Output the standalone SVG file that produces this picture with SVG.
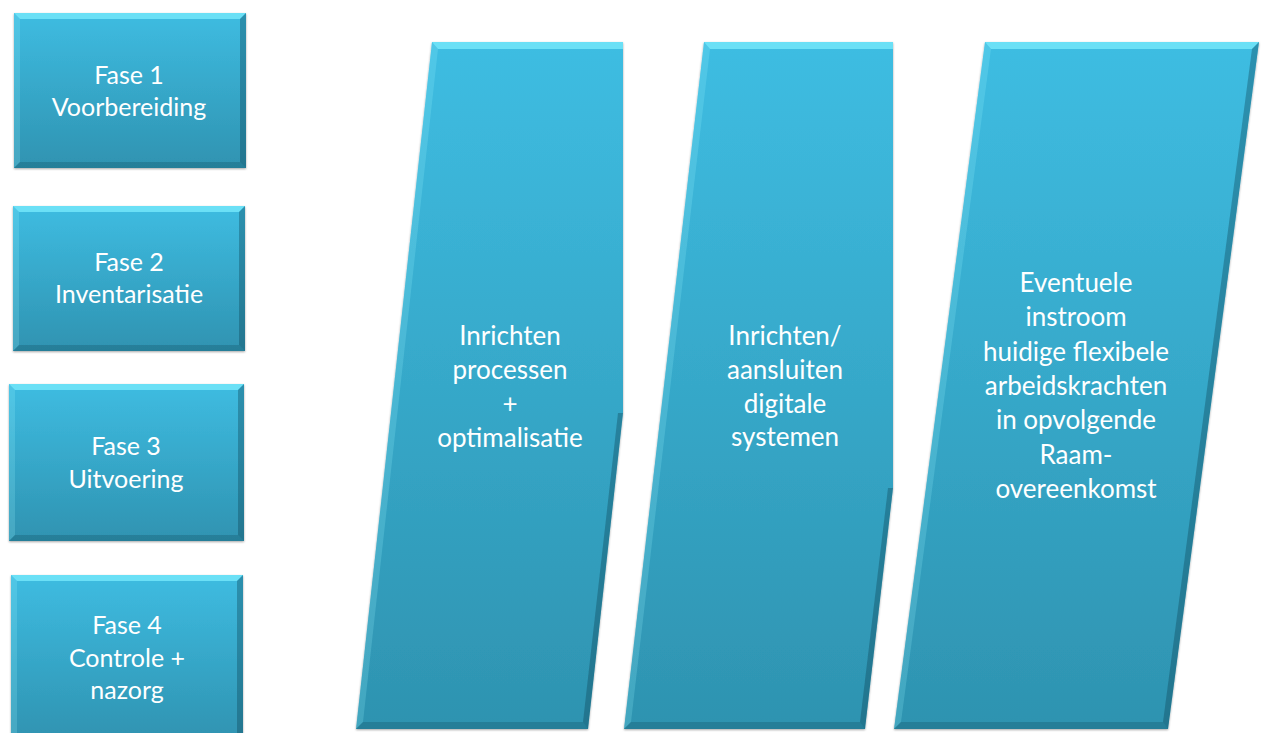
<svg xmlns="http://www.w3.org/2000/svg" width="1264" height="733" viewBox="0 0 1264 733">
<defs>
<linearGradient id="gBox" x1="0" y1="0" x2="0" y2="1">
<stop offset="0" stop-color="#3EBCE1"/>
<stop offset="1" stop-color="#2F93B1"/>
</linearGradient>
<linearGradient id="gPar" x1="0" y1="0" x2="0" y2="1">
<stop offset="0" stop-color="#3EBDE2"/>
<stop offset="1" stop-color="#2E93B0"/>
</linearGradient>
<filter id="sh" x="-5%" y="-5%" width="110%" height="110%">
<feDropShadow dx="0" dy="1" stdDeviation="1" flood-color="#000" flood-opacity="0.35"/>
</filter>
</defs>
<style>
text{font-family:Lato,"Open Sans","Liberation Sans",sans-serif;fill:#ffffff;text-anchor:middle}
.bt{font-size:25px}
.pt{font-size:26px}
.hl{fill:#7FF0FF;opacity:0.7}
.lt{fill:#9AF4FF;opacity:0.2}
.dk{fill:#0B3E50;opacity:0.35}
.dk2{fill:#0B3E50;opacity:0.25}
</style>
<rect width="1264" height="733" fill="#ffffff"/>

<g id="fase1">
<rect x="14" y="13" width="232" height="155" fill="url(#gBox)" filter="url(#sh)"/>
<polygon class="hl" points="14,13 246,13 240,19 20,19"/>
<polygon class="lt" points="14,13 20,19 20,162 14,168"/>
<polygon class="dk" points="246,13 246,168 240,162 240,19"/>
<polygon class="dk2" points="14,168 246,168 240,162 20,162"/>
<text class="bt" x="129" y="84">Fase 1</text>
<text class="bt" x="129" y="116">Voorbereiding</text>
</g>

<g id="fase2">
<rect x="13" y="206" width="232" height="145" fill="url(#gBox)" filter="url(#sh)"/>
<polygon class="hl" points="13,206 245,206 239,212 19,212"/>
<polygon class="lt" points="13,206 19,212 19,345 13,351"/>
<polygon class="dk" points="245,206 245,351 239,345 239,212"/>
<polygon class="dk2" points="13,351 245,351 239,345 19,345"/>
<text class="bt" x="129" y="271">Fase 2</text>
<text class="bt" x="129" y="303">Inventarisatie</text>
</g>

<g id="fase3">
<rect x="9" y="384" width="235" height="157" fill="url(#gBox)" filter="url(#sh)"/>
<polygon class="hl" points="9,384 244,384 238,390 15,390"/>
<polygon class="lt" points="9,384 15,390 15,535 9,541"/>
<polygon class="dk" points="244,384 244,541 238,535 238,390"/>
<polygon class="dk2" points="9,541 244,541 238,535 15,535"/>
<text class="bt" x="126" y="455">Fase 3</text>
<text class="bt" x="126" y="488">Uitvoering</text>
</g>

<g id="fase4">
<rect x="11" y="575" width="232" height="165" fill="url(#gBox)" filter="url(#sh)"/>
<polygon class="hl" points="11,575 243,575 237,581 17,581"/>
<polygon class="lt" points="11,575 17,581 17,740 11,740"/>
<polygon class="dk" points="243,575 243,740 237,740 237,581"/>
<text class="bt" x="127" y="634">Fase 4</text>
<text class="bt" x="127" y="667">Controle +</text>
<text class="bt" x="127" y="699">nazorg</text>
</g>

<g id="stap1">
<polygon points="432,42 623,42 623,413 588,729 356,729" fill="url(#gPar)" filter="url(#sh)"/>
<polygon class="hl" points="432,42 623,42 623,49 438,49"/>
<polygon class="lt" points="432,42 438,49 363,722 356,729"/>
<polygon class="dk" points="623,413 588,729 583,722 618,413"/>
<polygon class="dk2" points="356,729 588,729 583,722 363,722"/>
<text class="pt" x="510" y="345">Inrichten</text>
<text class="pt" x="510" y="379">processen</text>
<text class="pt" x="510" y="413">+</text>
<text class="pt" x="510" y="447">optimalisatie</text>
</g>

<g id="stap2">
<polygon points="704,42 893,42 893,488 865,729 624,729" fill="url(#gPar)" filter="url(#sh)"/>
<polygon class="hl" points="704,42 893,42 893,49 710,49"/>
<polygon class="lt" points="704,42 710,49 631,722 624,729"/>
<polygon class="dk" points="893,488 865,729 860,722 888,488"/>
<polygon class="dk2" points="624,729 865,729 860,722 631,722"/>
<text class="pt" x="785" y="345">Inrichten/</text>
<text class="pt" x="785" y="379">aansluiten</text>
<text class="pt" x="785" y="413">digitale</text>
<text class="pt" x="785" y="446">systemen</text>
</g>

<g id="stap3">
<polygon points="985,42 1259,42 1168,729 894,729" fill="url(#gPar)" filter="url(#sh)"/>
<polygon class="hl" points="985,42 1259,42 1252,49 991,49"/>
<polygon class="lt" points="985,42 991,49 901,722 894,729"/>
<polygon class="dk" points="1259,42 1168,729 1163,722 1252,49"/>
<polygon class="dk2" points="894,729 1168,729 1163,722 901,722"/>
<text class="pt" x="1076" y="292">Eventuele</text>
<text class="pt" x="1076" y="326">instroom</text>
<text class="pt" x="1076" y="361">huidige flexibele</text>
<text class="pt" x="1076" y="395">arbeidskrachten</text>
<text class="pt" x="1076" y="429">in opvolgende</text>
<text class="pt" x="1076" y="464">Raam-</text>
<text class="pt" x="1076" y="498">overeenkomst</text>
</g>

<g id="connectors"></g>
</svg>
